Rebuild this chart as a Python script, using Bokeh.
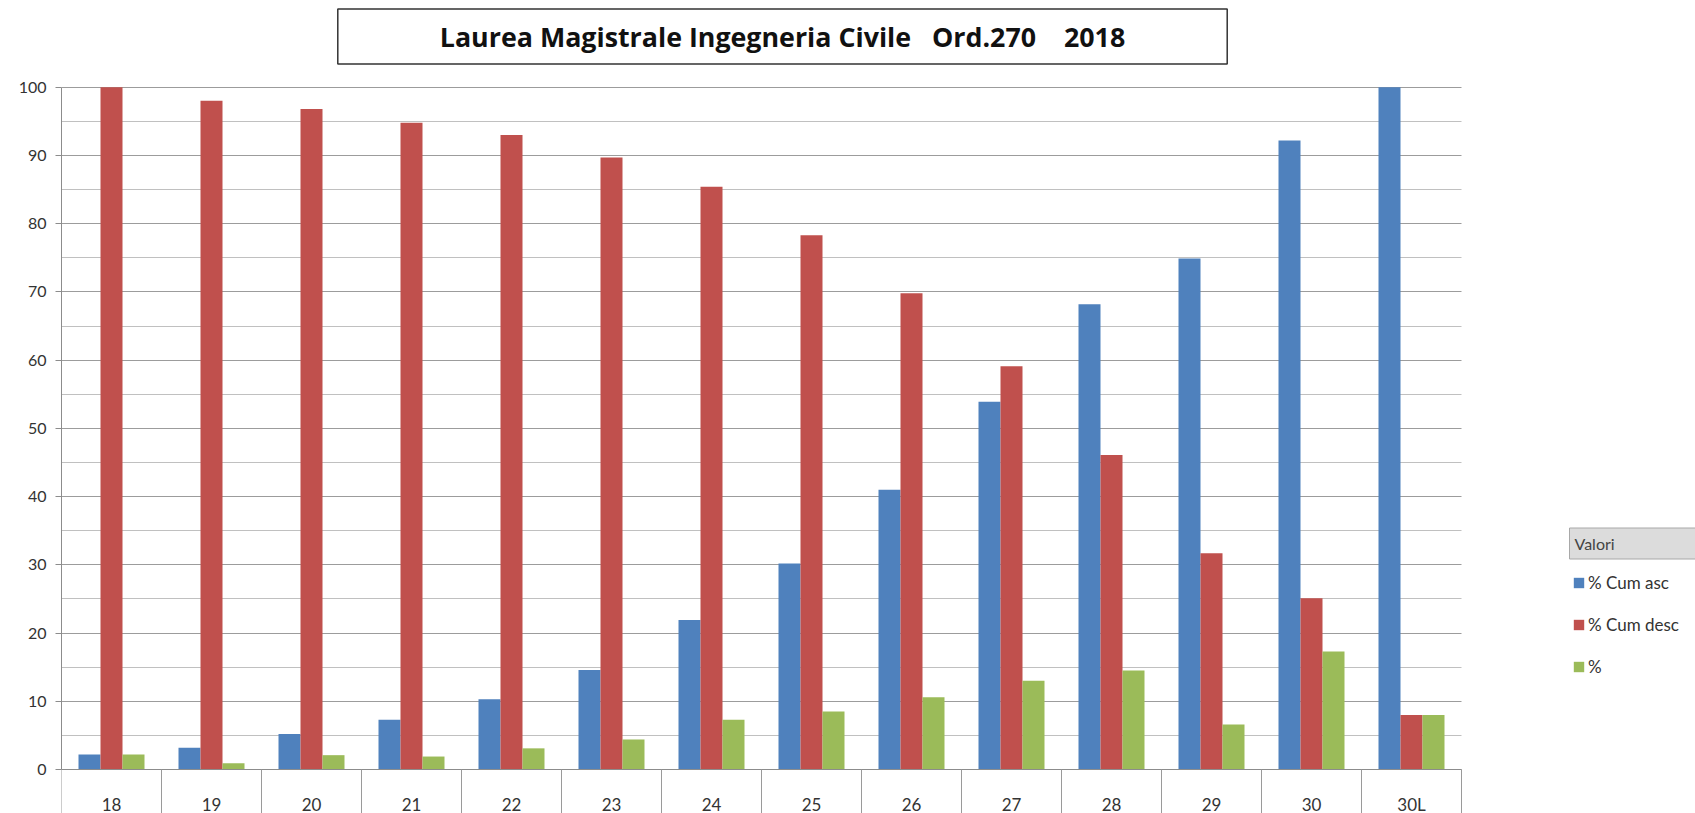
from bokeh.plotting import figure
from bokeh.models import (Range1d, LinearAxis, FixedTicker, SingleIntervalTicker,
                          Legend, LegendItem, Label, ColumnDataSource, BoxAnnotation)
from bokeh.transform import dodge
from bokeh.embed import file_html
from bokeh.resources import INLINE

# ---------------- data ----------------
title_text = "Laurea Magistrale Ingegneria Civile \u00a0 Ord.270 \u00a0\u00a0 2018"
categories = ["18", "19", "20", "21", "22", "23", "24", "25", "26", "27", "28", "29", "30", "30L"]
cum_asc = [2.2, 3.2, 5.2, 7.3, 10.3, 14.6, 21.9, 30.2, 41.0, 53.9, 68.2, 74.9, 92.2, 100.0]
cum_desc = [100.0, 98.0, 96.8, 94.8, 93.0, 89.7, 85.4, 78.3, 69.8, 59.1, 46.1, 31.7, 25.1, 8.0]
pct = [2.2, 0.9, 2.1, 1.9, 3.1, 4.4, 7.3, 8.5, 10.6, 13.0, 14.5, 6.6, 17.3, 8.0]
series_names = ["% Cum asc", "% Cum desc", "%"]
legend_title = "Valori"
y_max = 100
y_tick_interval = 10

colors = ["#4F81BD", "#C0504D", "#9BBB59"]
FONT = "Lato"

n = len(categories)
xpos = [i + 0.5 for i in range(n)]
src = ColumnDataSource(dict(x=xpos, cat=categories, asc=cum_asc, desc=cum_desc, pct=pct))

# ---------------- layout geometry ----------------
W, H = 1695, 813
left_border = 61
below_axis_px = 44        # room under y=0 for category labels
frame_w = W - left_border
px_per_cat = 100.0
y_top_px = 682.3          # pixels from y=0 to y=100
px_per_unit = y_top_px / y_max
x_end = frame_w / px_per_cat
y_start = -below_axis_px / px_per_unit
y_end = y_start + H / px_per_unit

p = figure(width=W, height=H, x_range=Range1d(0, x_end), y_range=Range1d(y_start, y_end),
           x_axis_type=None, output_backend="svg", toolbar_location=None,
           min_border_left=left_border, min_border_right=0, min_border_top=0,
           min_border_bottom=0)
p.outline_line_color = None
p.background_fill_color = "white"
p.border_fill_color = "white"

bw = 0.22
r1 = p.vbar(x=dodge("x", -bw), top="asc", width=bw, source=src,
            fill_color=colors[0], line_color=None)
r2 = p.vbar(x=dodge("x", 0.0), top="desc", width=bw, source=src,
            fill_color=colors[1], line_color=None)
r3 = p.vbar(x=dodge("x", bw), top="pct", width=bw, source=src,
            fill_color=colors[2], line_color=None)

# y axis
yax = p.yaxis[0]
yax.ticker = SingleIntervalTicker(interval=y_tick_interval, num_minor_ticks=2)
yax.bounds = (0, y_max)
yax.axis_line_color = "#8c8c8c"
yax.major_tick_line_color = "#8c8c8c"
yax.major_tick_out = 6
yax.major_tick_in = 0
yax.minor_tick_out = 0
yax.minor_tick_in = 0
yax.major_label_text_font = FONT
yax.major_label_text_font_size = "16px"
yax.major_label_text_color = "#333333"
yax.major_label_standoff = 9
p.ygrid.grid_line_color = "#9c9c9c"
p.ygrid.minor_grid_line_color = "#c0c0c0"
p.xgrid.grid_line_color = None

# x axis drawn at y=0: labels at category centres, dividers at boundaries
bounds = [float(i) for i in range(n + 1)]
overrides = {}
for c, lab in zip(xpos, categories):
    overrides[c] = lab
    overrides[str(c)] = lab
xaxis = LinearAxis(ticker=FixedTicker(ticks=xpos, minor_ticks=bounds),
                   major_label_overrides=overrides, bounds=(0, n), fixed_location=0)
xaxis.axis_line_color = "#8c8c8c"
xaxis.major_tick_out = 0
xaxis.major_tick_in = 0
xaxis.minor_tick_in = 0
xaxis.minor_tick_out = below_axis_px
xaxis.minor_tick_line_color = "#9a9a9a"
xaxis.major_label_text_font = FONT
xaxis.major_label_text_font_size = "17px"
xaxis.major_label_text_color = "#333333"
xaxis.major_label_standoff = -20
p.add_layout(xaxis, "below")

# white cover for the legend area (no gridlines there)
p.add_layout(BoxAnnotation(left=n, fill_color="white", fill_alpha=1.0, line_color=None,
                           level="underlay"))

# title box
p.add_layout(Label(x=721, y=777, x_units="screen", y_units="screen", text=title_text,
                   text_align="center", text_baseline="middle",
                   text_font="Open Sans", text_font_style="bold", text_font_size="26.8px",
                   text_color="#111111",
                   border_line_color="#333333", border_line_width=1.5,
                   background_fill_color="white",
                   padding=(102, 102, 9, 9)))

# legend title box
p.add_layout(Label(x=1508, y=270, x_units="screen", y_units="screen", text=legend_title,
                   text_align="left", text_baseline="middle",
                   text_font=FONT, text_font_size="16px", text_color="#444444",
                   border_line_color="#a8a8a8", border_line_width=1,
                   background_fill_color="#dcdcdc",
                   padding=(5, 94, 6, 6)))

legend = Legend(items=[LegendItem(label=series_names[0], renderers=[r1]),
                       LegendItem(label=series_names[1], renderers=[r2]),
                       LegendItem(label=series_names[2], renderers=[r3])],
                location=(1511, 136), orientation="vertical",
                glyph_width=13, glyph_height=13, label_standoff=3,
                label_height=20, spacing=21, padding=0, margin=0,
                label_text_font=FONT, label_text_font_size="17px", label_text_color="#333333",
                background_fill_alpha=0, border_line_color=None)
p.add_layout(legend, "center")

open("out.html", "w").write(file_html(p, INLINE))
